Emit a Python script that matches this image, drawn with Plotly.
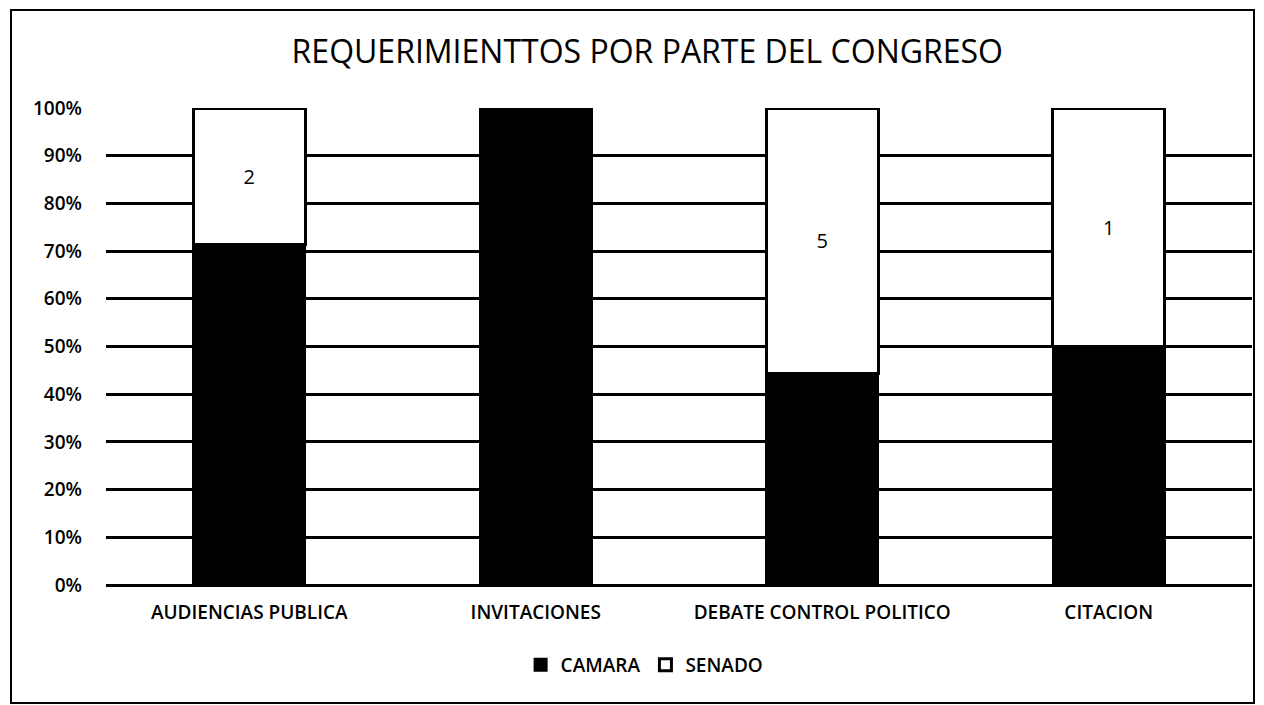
import plotly.graph_objects as go

categories = ["AUDIENCIAS PUBLICA", "INVITACIONES", "DEBATE CONTROL POLITICO", "CITACION"]
camara = [5, 3, 4, 1]
senado = [2, 0, 5, 1]
senado_labels = [str(v) if v else "" for v in senado]
tick_vals = list(range(0, 101, 10))
tick_text = [f"{v}%" for v in tick_vals]

FONT = "Open Sans, Liberation Sans, sans-serif"

fig = go.Figure()
fig.add_trace(go.Bar(
    name="CAMARA", x=categories, y=camara,
    marker=dict(color="black", line=dict(color="black", width=2)),
    hoverinfo="y",
))
fig.add_trace(go.Bar(
    name="SENADO", x=categories, y=senado,
    text=senado_labels, textposition="inside", insidetextanchor="middle",
    textfont=dict(size=20, color="black", family=FONT),
    marker=dict(color="white", line=dict(color="black", width=3)),
    hoverinfo="y",
))

# page body has an 8px margin; figure coordinates are window - 8
OFF = 8
W, H = 1264 - OFF, 705 - OFF
L, R, T, B = 106 - OFF, 12, 108 - OFF, 120
pw, ph = W - L - R, H - T - B

def px(xw):
    return (xw - OFF - L) / pw

def py(yw):
    return (H - B - (yw - OFF)) / ph

fig.update_layout(
    width=W, height=H,
    barmode="stack", barnorm="percent", bargap=0.61,
    uniformtext=dict(minsize=20, mode="show"),
    margin=dict(l=L, r=R, t=T, b=B),
    paper_bgcolor="white", plot_bgcolor="white",
    font=dict(family=FONT, color="black", size=18),
    title=dict(text="REQUERIMIENTTOS POR PARTE DEL CONGRESO",
               x=0.509, xanchor="center", y=1 - (52 - OFF) / H, yanchor="middle",
               font=dict(size=32, family=FONT, color="black")),
    legend=dict(orientation="h", x=0.47, xanchor="center", y=py(665), yanchor="middle",
                font=dict(size=19, family=FONT, weight=600), traceorder="normal"),
    showlegend=True,
    shapes=[dict(type="rect", xref="paper", yref="paper",
                 x0=px(11), x1=px(1254), y0=py(703), y1=py(10),
                 line=dict(color="black", width=2), fillcolor="rgba(0,0,0,0)", layer="below")],
)
fig.update_yaxes(range=[0, 100], tickmode="array", tickvals=tick_vals, ticktext=tick_text,
                 showgrid=True, gridcolor="black", gridwidth=3,
                 zeroline=True, zerolinecolor="black", zerolinewidth=3,
                 showline=False, ticks="", tickfont=dict(size=19, family=FONT, weight=600),
                 ticklabelstandoff=23)
fig.update_xaxes(showgrid=False, showline=False, ticks="", ticklabelstandoff=14,
                 tickfont=dict(size=19, family=FONT, weight=600))

fig.write_html("out.html")
